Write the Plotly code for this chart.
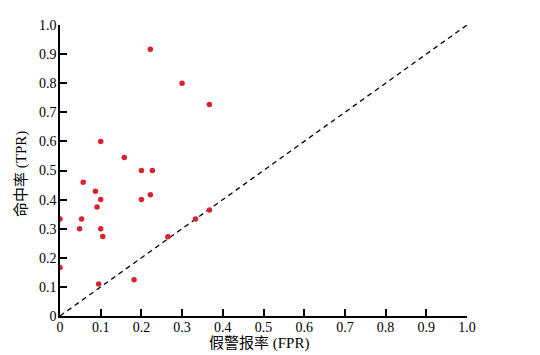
import plotly.graph_objects as go

fpr = [0.222, 0.300, 0.367, 0.100, 0.158, 0.200, 0.227,
       0.057, 0.087, 0.100, 0.091, 0.200, 0.222, 0.000, 0.053,
       0.048, 0.100, 0.105, 0.000, 0.095, 0.182, 0.265, 0.333, 0.367]
tpr = [0.917, 0.800, 0.727, 0.600, 0.545, 0.500, 0.500,
       0.460, 0.429, 0.400, 0.375, 0.400, 0.417, 0.333, 0.333,
       0.300, 0.300, 0.273, 0.167, 0.110, 0.125, 0.272, 0.333, 0.364]
diag = [0, 1]
ticks = [0, 0.1, 0.2, 0.3, 0.4, 0.5, 0.6, 0.7, 0.8, 0.9, 1.0]
tick_text = ["0", "0.1", "0.2", "0.3", "0.4", "0.5", "0.6", "0.7", "0.8", "0.9", "1.0"]
x_title = "假警报率 (FPR)"
y_title = "命中率 (TPR)"

font = "'Liberation Serif', 'Times New Roman', 'Noto Sans CJK SC', serif"

# page body has an 8px default margin, so the figure is sized to fit the window
W, H = 532, 347
L, T, PW, PH = 52, 17, 407, 291

fig = go.Figure()
fig.add_trace(go.Scatter(x=diag, y=diag, mode="lines",
                         line=dict(color="black", width=1.3, dash="5px,4px"),
                         hoverinfo="skip", showlegend=False))
fig.add_trace(go.Scatter(x=fpr, y=tpr, mode="markers",
                         marker=dict(color="#d9232b", size=5.5),
                         showlegend=False))

axis_common = dict(range=[0, 1], tickvals=ticks, ticktext=tick_text,
                   ticks="inside", ticklen=7, tickwidth=1.5, tickcolor="black",
                   showline=True, linecolor="black", linewidth=1.5,
                   showgrid=False, zeroline=False, automargin=False,
                   tickfont=dict(family=font, size=14, color="black"))

fig.update_layout(
    width=W, height=H,
    margin=dict(l=L, r=W - L - PW, t=T, b=H - T - PH, pad=0),
    plot_bgcolor="white", paper_bgcolor="white",
    xaxis=dict(**axis_common, ticklabelstandoff=-3),
    yaxis=dict(**axis_common, ticklabelstandoff=-1),
    annotations=[
        dict(text=x_title, xref="paper", yref="paper",
             x=(259 - 8 - L) / PW, y=(T + PH - (343 - 8)) / PH,
             xanchor="center", yanchor="middle", showarrow=False,
             font=dict(family=font, size=15, color="black")),
        dict(text=y_title, xref="paper", yref="paper",
             x=(21 - 8 - L) / PW, y=(T + PH - (174 - 8)) / PH,
             xanchor="center", yanchor="middle", showarrow=False, textangle=-90,
             font=dict(family=font, size=15, color="black")),
    ],
)

fig.write_html("out.html")
